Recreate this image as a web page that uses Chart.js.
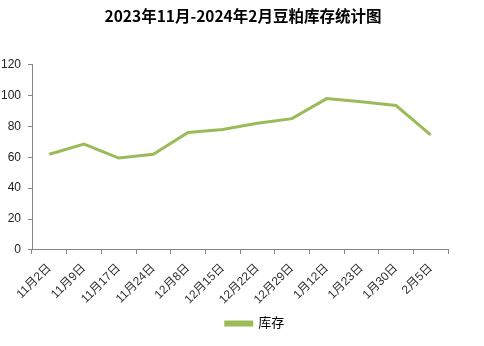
<!DOCTYPE html>
<html>
<head>
<meta charset="utf-8">
<script src="https://cdn.jsdelivr.net/npm/chart.js@4/dist/chart.umd.min.js"></script>
<style>
  html, body { margin: 0; padding: 0; background: #fff; }
  #wrap { width: 484px; height: 346px; position: relative; }
</style>
</head>
<body>
<div id="wrap"><canvas id="chart"></canvas></div>
<script>
// ── Data ───────────────────────────────────────────────
const dates  = ['11月2日', '11月9日', '11月17日', '11月24日', '12月8日', '12月15日',
                '12月22日', '12月29日', '1月12日', '1月23日', '1月30日', '2月5日'];
const stock  = [62, 68.5, 59.5, 62, 76, 78, 82, 85, 98, 96, 93.5, 74.5];
const yTicks = [0, 20, 40, 60, 80, 100, 120];

const FONT  = '"Liberation Sans", "Noto Sans CJK SC", sans-serif';
const GREEN = '#9bbb59';
const AXIS  = '#868686';

// title and legend sit a little right of the plot's centre in the original
const shiftBoxes = {
  id: 'shiftBoxes',
  afterLayout(chart) {
    const lg = chart.legend, tt = chart.titleBlock;
    if (lg) { lg.left += 31; lg.right += 31; }
    if (tt) { tt.left += 19; tt.right += 19; }
  }
};

new Chart(document.getElementById('chart').getContext('2d'), {
  type: 'line',
  data: {
    labels: dates,
    datasets: [{
      label: '库存',
      data: stock,
      borderColor: GREEN,
      backgroundColor: GREEN,
      borderWidth: 3,
      pointRadius: 0,
      tension: 0
    }]
  },
  options: {
    responsive: true, maintainAspectRatio: false,
    animation: false,
    layout: { padding: { left: 0, right: 36, top: 7, bottom: 6 } },
    plugins: {
      title: {
        display: true,
        text: '2023年11月-2024年2月豆粕库存统计图',
        font: { family: '"Noto Sans CJK SC", serif', size: 15.5, weight: 'bold' },
        color: '#000',
        padding: { top: 0, bottom: 39 }
      },
      legend: {
        position: 'bottom',
        labels: {
          boxWidth: 26, boxHeight: 3,
          font: { family: FONT, size: 13 },
          color: '#000',
          padding: 3
        }
      },
      tooltip: { enabled: false }
    },
    scales: {
      x: {
        offset: true,
        ticks: {
          minRotation: 45, maxRotation: 45, padding: 7,
          font: { family: FONT, size: 12 }, color: '#333'
        },
        grid: { drawOnChartArea: false, drawTicks: true, tickLength: 4, color: AXIS, offset: true },
        border: { color: AXIS }
      },
      y: {
        min: 0, max: 120,
        afterBuildTicks: s => { s.ticks = yTicks.map(v => ({ value: v })); },
        afterFit: s => { s.width = 32; },
        ticks: { font: { family: FONT, size: 12 }, color: '#222', padding: 7 },
        grid: { drawOnChartArea: false, drawTicks: true, tickLength: 4, color: AXIS },
        border: { color: AXIS }
      }
    }
  },
  plugins: [shiftBoxes]
});
</script>
</body>
</html>
